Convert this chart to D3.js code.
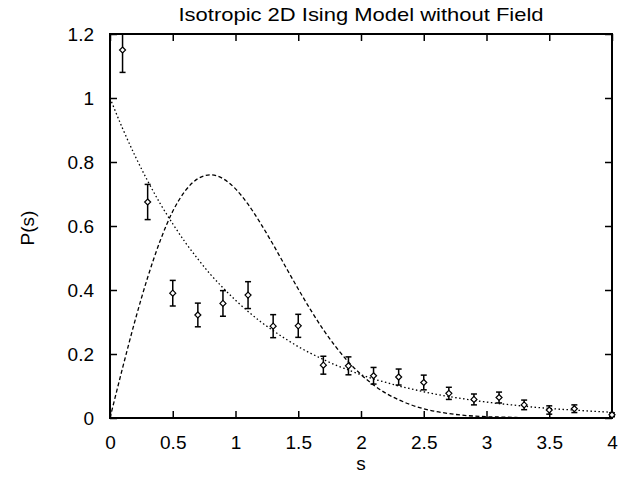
<!DOCTYPE html>
<html>
<head>
<meta charset="utf-8">
<script src="https://cdn.jsdelivr.net/npm/d3@7"></script>
<style>
  body { margin: 0; background: #fff; }
  svg { display: block; font-family: "Liberation Sans", Arial, sans-serif; }
</style>
</head>
<body>
<div id="chart"></div>
<script>
// measured points with error bars
const sVals = [0.1, 0.3, 0.5, 0.7, 0.9, 1.1, 1.3, 1.5, 1.7, 1.9, 2.1, 2.3, 2.5, 2.7, 2.9, 3.1, 3.3, 3.5, 3.7, 4.0];
const pVals = [1.15, 0.675, 0.39, 0.322, 0.358, 0.384, 0.287, 0.288, 0.165, 0.163, 0.132, 0.128, 0.111, 0.077, 0.058, 0.064, 0.041, 0.025, 0.029, 0.01];
const errVals = [0.07, 0.055, 0.04, 0.037, 0.04, 0.042, 0.036, 0.036, 0.028, 0.028, 0.026, 0.025, 0.023, 0.019, 0.017, 0.017, 0.015, 0.013, 0.012, 0.006];

const curveS = d3.range(0, 41).map(i => i / 10);
const poissonVals = [1.00, 0.905, 0.819, 0.741, 0.670, 0.607, 0.549, 0.497, 0.449, 0.407,
  0.368, 0.333, 0.301, 0.273, 0.247, 0.223, 0.202, 0.183, 0.165, 0.150,
  0.135, 0.122, 0.111, 0.100, 0.091, 0.082, 0.074, 0.067, 0.061, 0.055,
  0.050, 0.045, 0.041, 0.037, 0.033, 0.030, 0.027, 0.025, 0.022, 0.020, 0.018];
const wignerVals = [0, 0.156, 0.305, 0.439, 0.554, 0.646, 0.710, 0.748, 0.760, 0.748,
  0.716, 0.668, 0.608, 0.542, 0.472, 0.403, 0.337, 0.276, 0.222, 0.175,
  0.136, 0.103, 0.077, 0.057, 0.041, 0.029, 0.020, 0.014, 0.009, 0.006,
  0.004, 0.003, 0.002, 0.001, 0.001, 0, 0, 0, 0, 0, 0];

const xTicks = [0, 0.5, 1, 1.5, 2, 2.5, 3, 3.5, 4];
const yTicks = [0, 0.2, 0.4, 0.6, 0.8, 1, 1.2];

const W = 639, H = 477;
const margin = { top: 34, right: 27, bottom: 59, left: 110 };
const width = W - margin.left - margin.right,
      height = H - margin.top - margin.bottom;

const svg = d3.select('#chart').append('svg')
    .attr('width', W)
    .attr('height', H);

const g = svg.append('g')
    .attr('transform', `translate(${margin.left},${margin.top})`);

const x = d3.scaleLinear().domain([0, 4]).range([0, width]);
const y = d3.scaleLinear().domain([0, 1.2]).range([height, 0]);

// axes: ticks point inward, mirrored on top/right
const tickLen = 7;
g.append('g')
    .attr('transform', `translate(0,${height})`)
    .call(d3.axisBottom(x).tickValues(xTicks).tickSizeInner(-tickLen).tickSizeOuter(0)
        .tickPadding(18).tickFormat(d3.format('')))
    .call(a => a.select('.domain').remove())
    .call(a => a.selectAll('text').attr('font-size', 19).attr('fill', '#000'));

g.append('g')
    .call(d3.axisLeft(y).tickValues(yTicks).tickSizeInner(-tickLen).tickSizeOuter(0)
        .tickPadding(16).tickFormat(d3.format('')))
    .call(a => a.select('.domain').remove())
    .call(a => a.selectAll('text').attr('font-size', 19).attr('fill', '#000').attr('dy', '0.36em'));

g.append('g')
    .call(d3.axisTop(x).tickValues(xTicks).tickSizeInner(-tickLen).tickSizeOuter(0).tickFormat(''))
    .call(a => a.select('.domain').remove());

g.append('g')
    .attr('transform', `translate(${width},0)`)
    .call(d3.axisRight(y).tickValues(yTicks).tickSizeInner(-tickLen).tickSizeOuter(0).tickFormat(''))
    .call(a => a.select('.domain').remove());

g.selectAll('.tick line').attr('stroke', '#000').attr('stroke-width', 1.5);

// frame
g.append('rect')
    .attr('width', width)
    .attr('height', height)
    .attr('fill', 'none')
    .attr('stroke', '#000')
    .attr('stroke-width', 2);

// theory curves
const line = d3.line()
    .x(d => x(d[0]))
    .y(d => y(d[1]))
    .curve(d3.curveMonotoneX);

g.append('path')
    .datum(curveS.map((s, i) => [s, poissonVals[i]]))
    .attr('d', line)
    .attr('fill', 'none')
    .attr('stroke', '#000')
    .attr('stroke-width', 1.3)
    .attr('stroke-dasharray', '1.5,2.5');

g.append('path')
    .datum(curveS.map((s, i) => [s, wignerVals[i]]))
    .attr('d', line)
    .attr('fill', 'none')
    .attr('stroke', '#000')
    .attr('stroke-width', 1.3)
    .attr('stroke-dasharray', '4,2.5');

// data points with error bars
const pts = sVals.map((s, i) => ({ s, p: pVals[i], e: errVals[i] }));
const capW = 3;

const pg = g.selectAll('g.pt')
    .data(pts)
    .enter()
    .append('g')
    .attr('class', 'pt');

pg.append('line')
    .attr('x1', d => x(d.s)).attr('x2', d => x(d.s))
    .attr('y1', d => y(Math.min(d.p + d.e, 1.2)))
    .attr('y2', d => y(d.p - d.e))
    .attr('stroke', '#000').attr('stroke-width', 1.5);

pg.filter(d => d.p + d.e <= 1.2).append('line')
    .attr('x1', d => x(d.s) - capW).attr('x2', d => x(d.s) + capW)
    .attr('y1', d => y(d.p + d.e)).attr('y2', d => y(d.p + d.e))
    .attr('stroke', '#000').attr('stroke-width', 1.5);

pg.append('line')
    .attr('x1', d => x(d.s) - capW).attr('x2', d => x(d.s) + capW)
    .attr('y1', d => y(d.p - d.e)).attr('y2', d => y(d.p - d.e))
    .attr('stroke', '#000').attr('stroke-width', 1.5);

pg.append('path')
    .attr('d', d => {
        const cx = x(d.s), cy = y(d.p), r = 3;
        return `M${cx},${cy - r}L${cx + r},${cy}L${cx},${cy + r}L${cx - r},${cy}Z`;
    })
    .attr('fill', '#fff')
    .attr('stroke', '#000')
    .attr('stroke-width', 1.2);

// title and axis labels
svg.append('text')
    .attr('x', margin.left + width / 2)
    .attr('y', 21)
    .attr('text-anchor', 'middle')
    .attr('font-size', 19)
    .attr('textLength', 365)
    .attr('lengthAdjust', 'spacingAndGlyphs')
    .text('Isotropic 2D Ising Model without Field');

svg.append('text')
    .attr('x', margin.left + width / 2)
    .attr('y', 470)
    .attr('text-anchor', 'middle')
    .attr('font-size', 19)
    .text('s');

svg.append('text')
    .attr('transform', `translate(34,228)rotate(-90)`)
    .attr('text-anchor', 'middle')
    .attr('font-size', 19)
    .text('P(s)');
</script>
</body>
</html>
